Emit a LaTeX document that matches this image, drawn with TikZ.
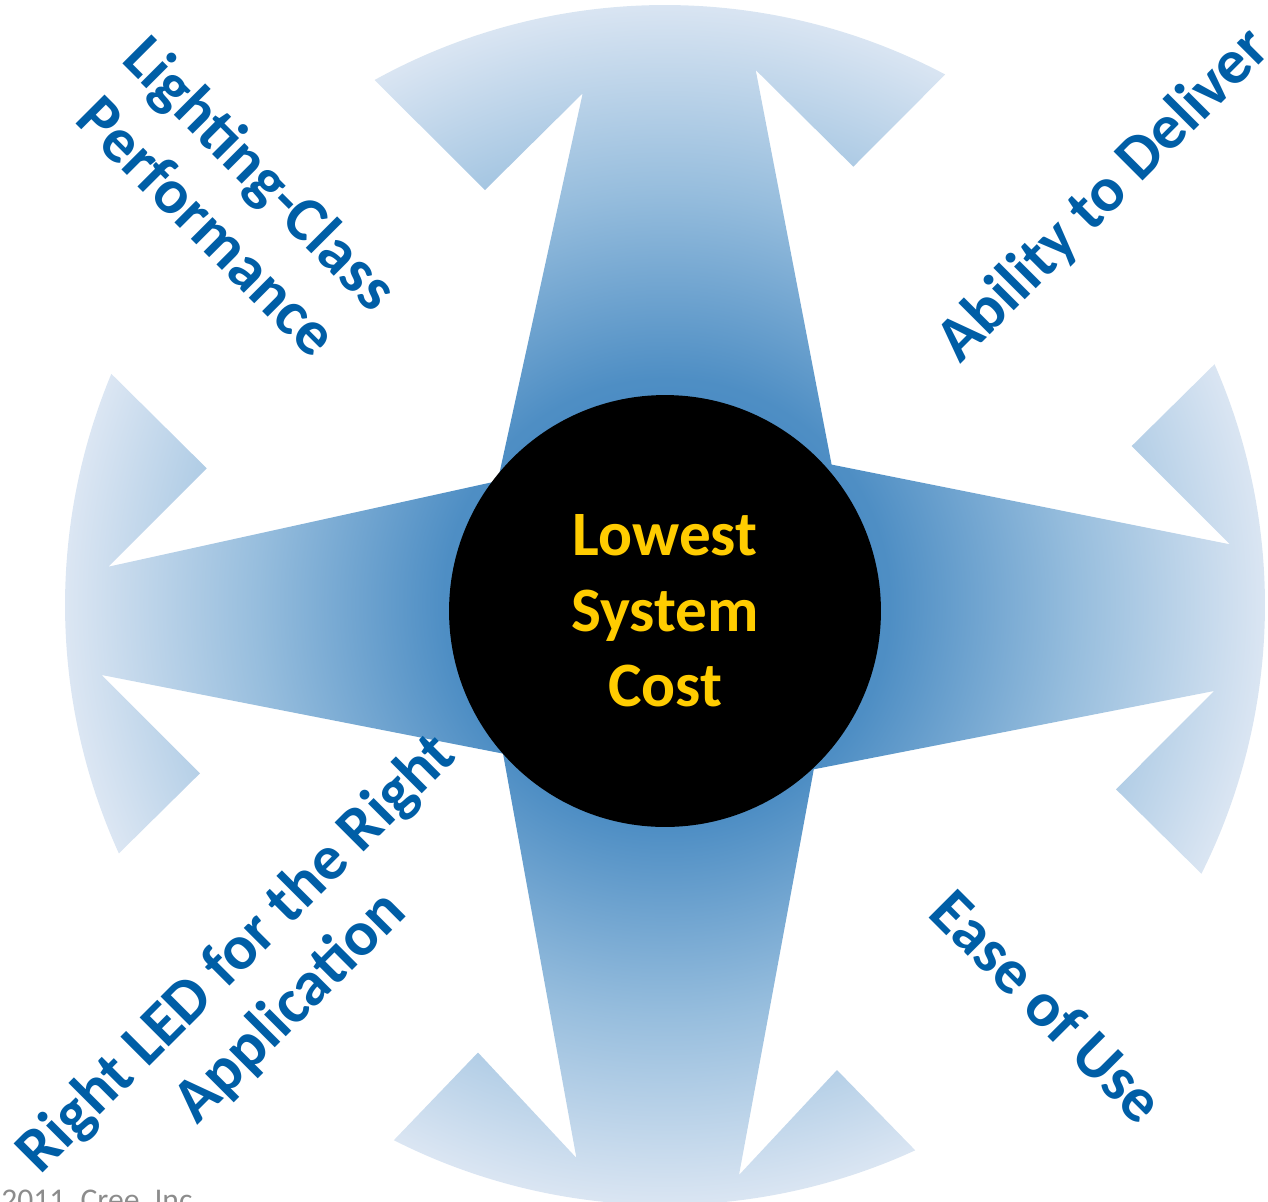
\documentclass[tikz,border=0pt]{standalone}
\usepackage{fontspec}
\setmainfont{Carlito}
\usetikzlibrary{calc}
\definecolor{creeblue}{RGB}{0,94,166}
\definecolor{creeyellow}{RGB}{255,204,0}
\definecolor{copygray}{RGB}{140,140,140}
\definecolor{sg0}{RGB}{60,128,188}
\definecolor{sg1}{RGB}{78,142,196}
\definecolor{sg2}{RGB}{150,189,221}
\definecolor{sg3}{RGB}{226,234,245}
\pgfdeclareradialshading{starshade}{\pgfpointorigin}{color(0bp)=(sg0); color(9bp)=(sg1); color(16.5bp)=(sg2); color(25bp)=(sg3); color(50bp)=(sg3)}
\begin{document}
\begin{tikzpicture}[x=0.02cm,y=-0.02cm,
  lbl/.style={text=creeblue, font=\bfseries\fontsize{36}{43}\selectfont, align=center, inner sep=0pt},
  core/.style={circle, fill=black, minimum size=8.64cm, inner sep=0pt, text=creeyellow, font=\bfseries\fontsize{36}{43}\selectfont, align=center}]
\useasboundingbox (0,0) rectangle (1268,1201);
\coordinate (C) at (665,605);
\shade[shading=starshade]
  ($(C)+(-118.95:600)$) arc[start angle=-118.95, end angle=-62.16, radius=600]
  -- (853.3,166.7) -- (755.7,70) -- (831.6,464.6) -- (1230,544.3) -- (1131.7,446)
  -- ($(C)+(-23.66:600)$) arc[start angle=-23.66, end angle=26.61, radius=600]
  -- (1116,789.3) -- (1214,691) -- (813.8,769.3) -- (739,1175) -- (837,1070)
  -- ($(C)+(65.35:600)$) arc[start angle=65.35, end angle=116.87, radius=600]
  -- (478,1052.5) -- (576.4,1157.9) -- (503,753.6) -- (101.7,675) -- (200,773.3)
  -- ($(C)+(155.54:600)$) arc[start angle=155.54, end angle=202.66, radius=600]
  -- (206.7,468.3) -- (108.3,566.7) -- (497.7,481) -- (582.7,93.3) -- (485,190) -- cycle;
\node[core] (hub) at (665,611) {Lowest\\System\\Cost};
\node[lbl, rotate=-45] (perf) at (235,199) {Lighting-Class\\Performance};
\node[lbl, rotate=45] (deliv) at (1104,196) {Ability to Deliver};
\node[lbl, rotate=-45] (ease) at (1048,1006) {Ease of Use};
\node[lbl, rotate=45] (rightled) at (264,981) {Right LED for the Right\\Application};
\node[anchor=base west, inner sep=0pt, text=copygray, font=\fontsize{18}{20}\selectfont] (copy) at (1,1210) {\llap{©}2011, Cree, Inc.};
\end{tikzpicture}
\end{document}
